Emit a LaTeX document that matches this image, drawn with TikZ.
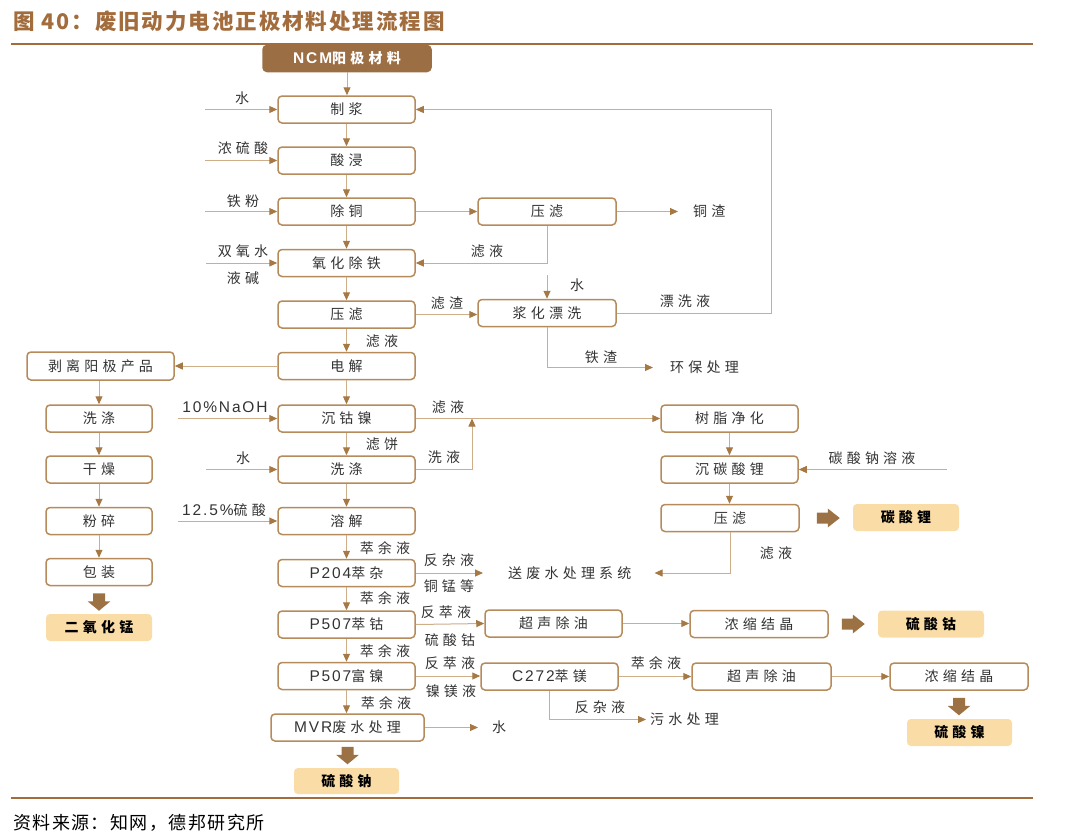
\documentclass[tikz,border=0pt]{standalone}
\usepackage{fontspec}
\setmainfont{Liberation Sans}
\newfontfamily\cjk{Noto Sans CJK SC}[LetterSpace=30]
\newfontfamily\cjkt{Noto Sans CJK SC}[LetterSpace=9]
\newfontfamily\cjkf{Noto Sans CJK SC}[LetterSpace=8]
\newfontfamily\lat{Liberation Sans}[LetterSpace=12]
\newcommand\latx[1]{{\lat\fontsize{15.5}{16}\selectfont #1}}
\usetikzlibrary{arrows.meta,calc}
\definecolor{boxc}{HTML}{B68B5B}
\definecolor{linec}{HTML}{CDAE88}
\definecolor{tipc}{HTML}{A57844}
\definecolor{outc}{HTML}{F9DCA6}
\definecolor{darkc}{HTML}{9C6E44}
\definecolor{bigc}{HTML}{9C7244}
\definecolor{titc}{HTML}{A36C3C}
\definecolor{txtc}{HTML}{333333}
\tikzset{
 box/.style={draw=boxc, line width=1.5pt, rounded corners=4pt, fill=white, inner sep=0pt, text=txtc, font=\cjk\fontsize{14}{16}\selectfont, minimum height=27pt},
 mainbox/.style={box, minimum width=137pt},
 outbox/.style={fill=outc, rounded corners=4pt, inner sep=0pt, text=black, font=\cjk\bfseries\fontsize{14}{16}\selectfont, minimum height=27pt, minimum width=106pt},
 lbl/.style={inner sep=0pt, text=txtc, font=\cjk\fontsize{14}{16}\selectfont},
 arr/.style={draw=linec, line width=1pt, -{Triangle[length=8pt,width=7pt,color=tipc]}},
 bigarr/.style={fill=bigc},
}
\newcommand\bigdn[1]{\fill[bigarr] (#1) ++(-6,0) -- ++(12,0) -- ++(0,8) -- ++(5.5,0) -- ++(-11.5,9.5) -- ++(-11.5,-9.5) -- ++(5.5,0) -- cycle;}
\newcommand\bigrt[1]{\fill[bigarr] (#1) ++(0,-5.5) -- ++(11,0) -- ++(0,-4) -- ++(12,9.5) -- ++(-12,9.5) -- ++(0,-4) -- ++(-11,0) -- cycle;}
\begin{document}
\begin{tikzpicture}[x=1pt,y=-1pt]
\useasboundingbox (0,0) rectangle (1080,839);
% title and rules
\node[anchor=west, inner sep=0pt, text=titc, font=\cjkt\bfseries\fontsize{21.5}{24}\selectfont] (title) at (13,21) {图 40：废旧动力电池正极材料处理流程图};
\draw[titc, line width=2.5pt] (11,44) -- (1033,44);
\draw[titc, line width=2.5pt] (11,798) -- (1033,798);
\node[anchor=west, inner sep=0pt, text=black, font=\cjkf\fontsize{18}{20}\selectfont] (src) at (13,823) {资料来源：知网，德邦研究所};

% main column
\node[box, fill=darkc, draw=darkc, text=white, font=\cjk\bfseries\fontsize{14}{16}\selectfont, minimum width=168pt, minimum height=26pt] (ncm) at (347,58.5) {{\lat\bfseries\fontsize{15.5}{16}\selectfont NCM}阳极材料};
\node[mainbox] (zj) at (346.5,109.5) {制浆};
\node[mainbox] (sj) at (346.5,160.5) {酸浸};
\node[mainbox] (tc) at (346.5,211.5) {除铜};
\node[mainbox] (yh) at (346.5,263) {氧化除铁};
\node[mainbox] (yl1) at (346.5,314.5) {压滤};
\node[mainbox] (dj) at (346.5,366) {电解};
\node[mainbox] (cg) at (346.5,418.5) {沉钴镍};
\node[mainbox] (xd) at (346.5,469.5) {洗涤};
\node[mainbox] (rj) at (346.5,521) {溶解};
\node[mainbox] (p204) at (346.5,573) {\latx{P204}萃杂};
\node[mainbox] (p507c) at (346.5,624.5) {\latx{P507}萃钴};
\node[mainbox] (p507n) at (346.5,676) {\latx{P507}富镍};
\node[box, minimum width=153pt] (mvr) at (347.5,727.5) {\latx{MVR}废水处理};
\node[outbox, minimum width=105pt, minimum height=26pt] (na) at (346.5,781) {硫酸钠};

% left column
\node[box, minimum width=147pt, minimum height=28pt] (bl) at (100.5,366) {剥离阳极产品};
\node[box, minimum width=106pt] (lxd) at (99,418.5) {洗涤};
\node[box, minimum width=106pt] (gz) at (99,469.5) {干燥};
\node[box, minimum width=106pt] (fs) at (99,521) {粉碎};
\node[box, minimum width=106pt] (bz) at (99,572) {包装};
\node[outbox] (mn) at (99,627.5) {二氧化锰};

% right side
\node[box, minimum width=138pt] (yl2) at (547,211.5) {压滤};
\node[box, minimum width=138pt] (jh) at (547,313) {浆化漂洗};
\node[box, minimum width=137pt] (sz) at (729.5,418.5) {树脂净化};
\node[box, minimum width=137pt] (ct) at (729.5,469.5) {沉碳酸锂};
\node[box, minimum width=138pt] (yl3) at (730,518) {压滤};
\node[outbox] (li) at (906,517.5) {碳酸锂};
\node[box, minimum width=137pt] (cs1) at (553.5,623.5) {超声除油};
\node[box, minimum width=138pt] (nj1) at (759,624) {浓缩结晶};
\node[outbox] (co) at (931,624) {硫酸钴};
\node[box, minimum width=137pt] (c272) at (549.5,676.5) {\latx{C272}萃镁};
\node[box, minimum width=139pt] (cs2) at (761.5,676.5) {超声除油};
\node[box, minimum width=138pt] (nj2) at (959,676.5) {浓缩结晶};
\node[outbox, minimum width=105pt] (ni) at (959.5,732.5) {硫酸镍};

% end texts
\node[lbl, anchor=west] (tz) at (693,211.5) {铜渣};
\node[lbl, anchor=west] (hb) at (670,367.5) {环保处理};
\node[lbl, anchor=west] (ws) at (508,573) {送废水处理系统};
\node[lbl, anchor=west] (wsc) at (650,719.5) {污水处理};
\node[lbl, anchor=west] (wat) at (492,727.5) {水};

% main vertical arrows
\foreach \a/\b in {zj/sj,sj/tc,tc/yh,yh/yl1,yl1/dj,dj/cg,cg/xd,xd/rj,rj/p204,p204/p507c,p507c/p507n}
  \draw[arr] (\a.south) -- (\b.north);
\draw[arr] (ncm.south) -- (ncm.south |- zj.north);
\draw[arr] (p507n.south) -- (p507n.south |- mvr.north);
% left column arrows
\draw[arr] (dj.west) -- (bl.east);
\draw[arr] (lxd.north |- bl.south) -- (lxd.north);
\foreach \a/\b in {lxd/gz,gz/fs,fs/bz}
  \draw[arr] (\a.south) -- (\b.north);
% inputs from the left
\coordinate (i1) at (205,109.5);
\coordinate (i2) at (205,160.5);
\coordinate (i3) at (205,211.5);
\coordinate (i4) at (206,263);
\coordinate (i5) at (178,418.5);
\coordinate (i6) at (206,469.5);
\coordinate (i7) at (178,521);
\draw[arr] (i1) -- (zj.west);
\draw[arr] (i2) -- (sj.west);
\draw[arr] (i3) -- (tc.west);
\draw[arr] (i4) -- (yh.west);
\draw[arr] (i5) -- (cg.west);
\draw[arr] (i6) -- (xd.west);
\draw[arr] (i7) -- (rj.west);
\node[lbl] (t1) at (242,98) {水};
\node[lbl] (t2) at (243,148) {浓硫酸};
\node[lbl] (t3) at (243,201) {铁粉};
\node[lbl] (t4) at (243,251) {双氧水};
\node[lbl] (t5) at (243,278) {液碱};
\node[inner sep=0pt, text=txtc, font=\lat\fontsize{15.5}{16}\selectfont] (t6) at (225,407) {10\%NaOH};
\node[lbl] (t7) at (243,458) {水};
\node[inner sep=0pt, text=txtc] (t8) at (224,510) {\latx{12.5\%}{\cjk\fontsize{14}{16}\selectfont 硫酸}};

% copper branch
\draw[arr] (tc.east) -- (yl2.west);
\draw[arr, shorten >=15pt] (yl2.east) -- (tz.west);
\draw[arr] (yl2.south) |- (yh.east);
\node[lbl] (t9) at (487,251) {滤液};
\coordinate (w2) at (547,275);
\draw[arr] (w2) -- (jh.north);
\node[lbl] (t10) at (577,285) {水};
\draw[arr] (yl1.east) -- (yl1.east -| jh.west);
\node[lbl] (t11) at (447,303) {滤渣};
\coordinate (rl) at (771,313);
\draw[arr] (jh.east) -- (rl) |- (zj.east);
\node[lbl] (t12) at (685,301) {漂洗液};
\draw[arr, shorten >=17pt] (jh.south) |- (hb.west);
\node[lbl] (t13) at (601,357) {铁渣};
\node[lbl] (t14) at (382,341) {滤液};

% lithium branch
\draw[arr] (cg.east) -- (sz.west);
\node[lbl] (t15) at (448,407) {滤液};
\coordinate (wj) at (472,418.5);
\draw[arr] (xd.east) -| (wj);
\node[lbl] (t16) at (444,457) {洗液};
\node[lbl] (t17) at (382,444) {滤饼};
\draw[arr] (sz.south) -- (ct.north);
\draw[arr] (ct.south) -- (ct.south |- yl3.north);
\coordinate (na2) at (947,469.5);
\draw[arr] (na2) -- (ct.east);
\node[lbl] (t18) at (872,458) {碳酸钠溶液};
\bigrt{$(yl3.east)+(17,0)$}
\draw[arr, shorten >=23pt] (yl3.south) |- (ws.east);
\node[lbl] (t19) at (776,553) {滤液};

% extraction branches
\node[lbl] (t20) at (385,548) {萃余液};
\node[lbl] (t21) at (385,598) {萃余液};
\node[lbl] (t22) at (385,651) {萃余液};
\node[lbl] (t23) at (386,703) {萃余液};
\draw[arr, shorten >=25pt] (p204.east) -- (ws.west);
\node[lbl] (t24) at (449,560) {反杂液};
\node[lbl] (t25) at (449,586) {铜锰等};
\draw[arr] (p507c.east) -- (cs1.west);
\node[lbl] (t26) at (446,612) {反萃液};
\node[lbl] (t27) at (450,640) {硫酸钴};
\draw[arr] (cs1.east) -- (cs1.east -| nj1.west);
\bigrt{$(nj1.east)+(13,0)$}
\draw[arr] (p507n.east) -- (p507n.east -| c272.west);
\node[lbl] (t28) at (450,663) {反萃液};
\node[lbl] (t29) at (451,691) {镍镁液};
\draw[arr] (c272.east) -- (cs2.west);
\node[lbl] (t30) at (656,663) {萃余液};
\draw[arr] (cs2.east) -- (nj2.west);
\bigdn{$(nj2.south)+(0,7)$}
\draw[arr, shorten >=4pt] (c272.south) |- (wsc.west);
\node[lbl] (t31) at (600,707) {反杂液};
\draw[arr, shorten >=14pt] (mvr.east) -- (wat.west);
\bigdn{$(mvr.south)+(0,5)$}
\bigdn{$(bz.south)+(0,7)$}
\end{tikzpicture}
\end{document}
